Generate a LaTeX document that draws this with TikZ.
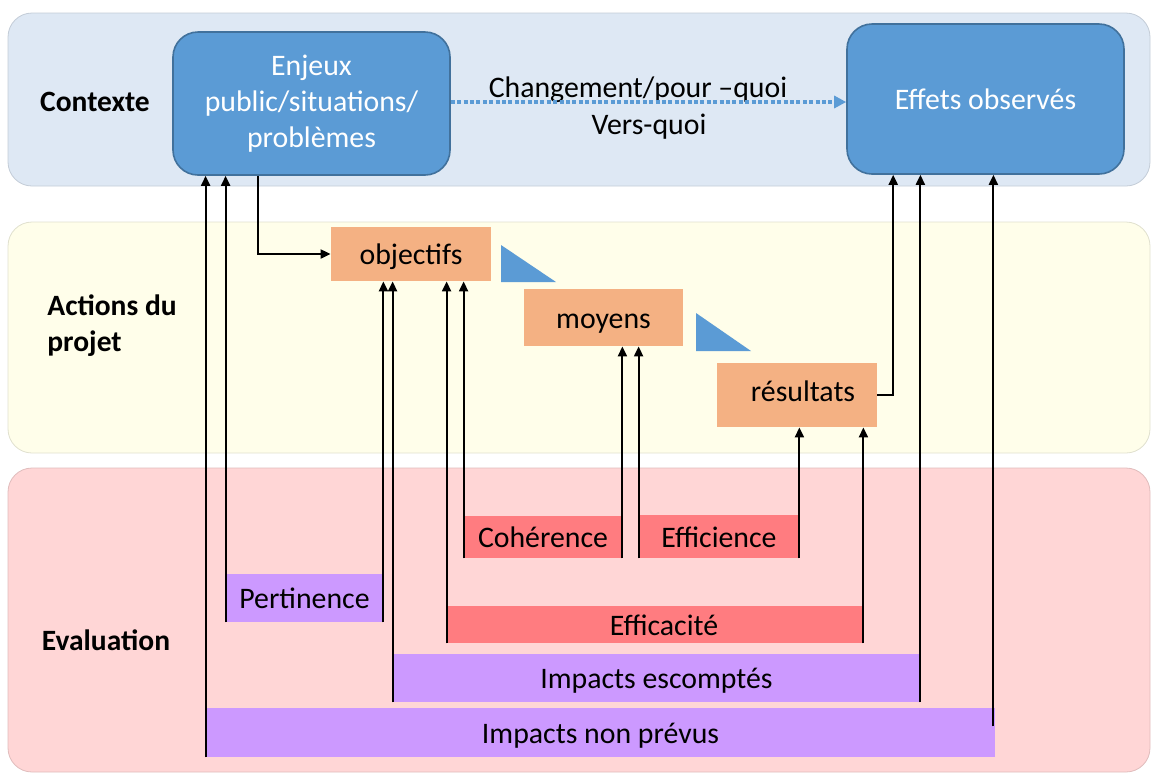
\documentclass[tikz,border=0pt]{standalone}
\usepackage{fontspec}
\setmainfont{Carlito}
\usetikzlibrary{arrows.meta,calc}
\definecolor{ctxbg}{HTML}{DEE8F4}
\definecolor{actbg}{HTML}{FFFEEA}
\definecolor{evabg}{HTML}{FFD6D6}
\definecolor{bluebox}{HTML}{5B9BD5}
\definecolor{blueedge}{HTML}{41719C}
\definecolor{orangebox}{HTML}{F4B183}
\definecolor{redbox}{HTML}{FF7C80}
\definecolor{violetbox}{HTML}{CC99FF}
\begin{document}
\begin{tikzpicture}[x=0.5pt,y=-0.5pt,
  every node/.style={font=\fontsize{14.9}{17.5}\selectfont, inner sep=0pt},
  oneline/.style={text height=12pt, text depth=1.5pt},
  band/.style={rounded corners=12pt, draw=#1!88!black, line width=0.4pt, fill=#1},
  ctxbox/.style={draw=blueedge, fill=bluebox, line width=0.8pt, rounded corners=12.5pt,
    text=white, align=center, minimum width=138.5pt},
  stepbox/.style={fill=orangebox, oneline},
  evalred/.style={fill=redbox, oneline},
  evalviolet/.style={fill=violetbox, oneline},
  arr/.style={line width=1pt, -{Triangle[length=5pt,width=4.5pt]}},
  flow/.style={draw=bluebox, line width=1.6pt, dash pattern=on 2pt off 1.2pt,
    -{Triangle[length=6pt,width=6pt]}},
  rowlabel/.style={font=\fontsize{14.75}{18}\selectfont\bfseries, align=left}
]
\useasboundingbox (0,0) rectangle (1151,773);

% three horizontal bands
\path[band=ctxbg] (8,13) rectangle (1150,186);
\path[band=actbg] (8,222) rectangle (1150,453);
\path[band=evabg] (8,468) rectangle (1150,772);

% band titles
\node[rowlabel] (lctx) at (95,102) {Contexte};
\node[rowlabel, anchor=west] (lact) at (47,326) {Actions du\\projet};
\node[rowlabel] (leva) at (106,640) {Evaluation};

% context boxes
\node[ctxbox, minimum height=71.5pt, font=\fontsize{14.9}{18}\selectfont] (enj) at (311.5,103.5) {Enjeux\\public/situations/\\problèmes};
\node[ctxbox, minimum height=75pt, oneline] (eff) at (985.5,99) {Effets observés};

\node[oneline] (chg) at (638,87) {Changement/pour –quoi};
\node[oneline] (vq) at (649,124) {Vers-quoi};
\draw[flow] (enj.east |- 0,102) -- (eff.west |- 0,102);

% project steps
\node[stepbox, minimum width=80pt, minimum height=27pt] (obj) at (411,254) {objectifs};
\node[stepbox, minimum width=79.5pt, minimum height=28.5pt] (moy) at (603.5,317.5) {moyens};
\node[stepbox, minimum width=80pt, minimum height=32pt, text height=9pt, text depth=2.5pt] (res) at (797,395) {\hspace{6pt}résultats};

% step markers
\fill[bluebox] (501,245) -- (501,282) -- (556,282) -- cycle;
\fill[bluebox] (696,313) -- (696,351) -- (751,351) -- cycle;

% evaluation criteria
\node[evalred, minimum width=79pt, minimum height=21pt] (coh) at (543,537) {Cohérence};
\node[evalred, minimum width=80pt, minimum height=21.5pt] (efi) at (719,536.5) {Efficience};
\node[evalviolet, minimum width=78.5pt, minimum height=24pt] (per) at (304.5,598) {Pertinence};
\node[evalred, minimum width=208pt, minimum height=18.5pt] (efa) at (655,624.5) {\hspace{9pt}Efficacité};
\node[evalviolet, minimum width=263.5pt, minimum height=24pt] (ies) at (656.5,678) {Impacts escomptés};
\node[evalviolet, minimum width=394.5pt, minimum height=24.5pt] (inp) at (600.5,732.5) {Impacts non prévus};

% links between context and steps
\draw[arr] ($(enj.south west)+(86,0)$) |- (obj.west);
\draw[arr] (res.east) -| ($(eff.south west)+(47,0)$);

% criteria links
\draw[arr] (coh.south west) -- (coh.south west |- obj.south);
\draw[arr] (coh.south east) -- (coh.south east |- moy.south);
\draw[arr] (efi.south west) -- (efi.south west |- moy.south);
\draw[arr] (efi.south east) -- (efi.south east |- res.south);
\draw[arr] (per.south west) -- (per.south west |- enj.south);
\draw[arr] (per.south east) -- (per.south east |- obj.south);
\draw[arr] (efa.south west) -- (efa.south west |- obj.south);
\draw[arr] (efa.south east) -- (efa.south east |- res.south);
\draw[arr] (ies.south west) -- (ies.south west |- obj.south);
\draw[arr] (ies.south east) -- (ies.south east |- eff.south);
\draw[arr] (inp.south west) -- (inp.south west |- enj.south);
\coordinate (inpr) at ($(inp.south east)+(-2,-31)$);
\draw[arr] (inpr) -- (inpr |- eff.south);
\end{tikzpicture}
\end{document}
